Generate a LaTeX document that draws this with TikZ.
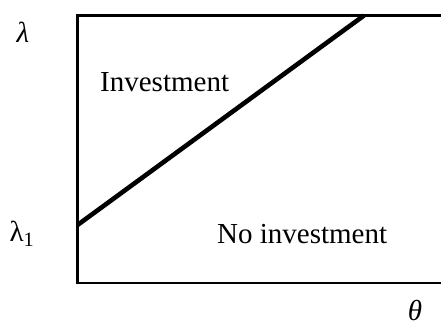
\documentclass[tikz,border=0pt]{standalone}
\usepackage{fontspec}
\setmainfont{Liberation Serif}
\usetikzlibrary{positioning,calc}

\tikzset{
  region/.style={font=\fontsize{29}{34}\selectfont,inner sep=0pt,anchor=base west},
  axislab/.style={font=\fontsize{29}{34}\selectfont,inner sep=0pt},
  frame/.style={line width=2.6pt,line cap=rect},
  boundary/.style={line width=4.6pt}
}

\begin{document}
\begin{tikzpicture}[x=1pt,y=1pt]
  \useasboundingbox (0,0) rectangle (441,327);
  % frame of the region plot
  \coordinate (tl) at (77.5,311.5);
  \coordinate (bl) at (77.5,44);
  \coordinate (tr) at (441,311.5);
  \coordinate (br) at (441,44);
  \draw[frame] (tr) -- (tl) -- (bl) -- (br);
  % investment threshold
  \coordinate (lo) at (77.5,102);
  \coordinate (hi) at (364,311.5);
  \draw[boundary] (lo) -- (hi);
  % labels
  \node[axislab] (lam) at (23,295) {\textit{λ}};
  \node[axislab] (lamone) at (22,93) {λ\textsubscript{1}};
  \node[axislab] (theta) at (415,17) {\textit{θ}};
  \node[region] (inv) at (100,235) {Investment};
  \node[region] (noinv) at (217,84) {No investment};
\end{tikzpicture}
\end{document}
